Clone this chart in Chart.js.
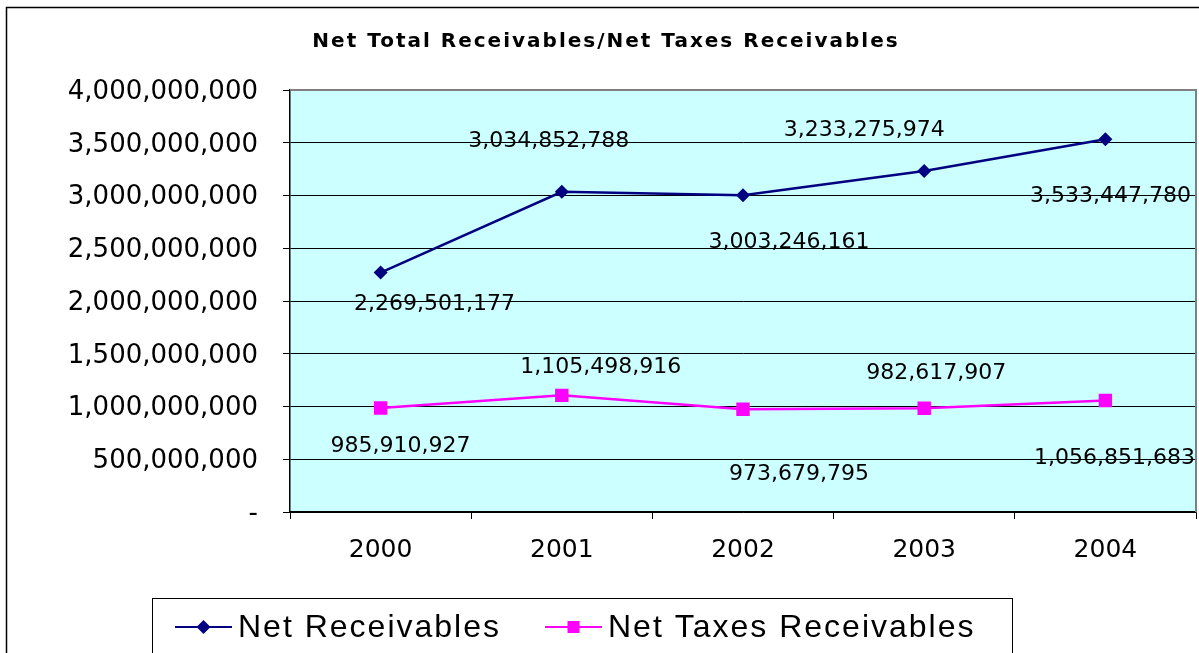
<!DOCTYPE html>
<html>
<head>
<meta charset="utf-8">
<script src="https://cdn.jsdelivr.net/npm/chart.js@4/dist/chart.umd.min.js"></script>
<style>
  html, body { margin: 0; padding: 0; background: #fff; }
  canvas { display: block; }
</style>
</head>
<body>
<canvas id="chart" width="1199" height="653"></canvas>
<script>
const years = ["2000", "2001", "2002", "2003", "2004"];
const netReceivables = [2269501177, 3034852788, 3003246161, 3233275974, 3533447780];
const netTaxesReceivables = [985910927, 1105498916, 973679795, 982617907, 1056851683];
const yTicksMax = 4000000000;
const yTicksStep = 500000000;

// label placement relative to each point (dx, dy in px)
const labelOffsets = [
  [[54, 32], [-13, -51], [46, 47], [-60, -41], [5, 57]],
  [[20, 38], [39, -28], [56, 65], [12, -35], [9, 58]],
];

const fmt = v => v.toLocaleString("en-US");

const framePlugin = {
  id: "frame",
  beforeDraw(chart) {
    const { ctx, chartArea: a } = chart;
    ctx.save();
    ctx.fillStyle = "#fff";
    ctx.fillRect(0, 0, chart.width, chart.height);
    ctx.fillStyle = "#CCFFFF";
    ctx.fillRect(a.left, a.top, a.right - a.left, a.bottom - a.top);
    // outer frame
    ctx.strokeStyle = "#000";
    ctx.lineWidth = 1.5;
    ctx.strokeRect(6.5, 7.5, 1250, 700);
    // title
    ctx.fillStyle = "#000";
    ctx.font = "bold 20px 'DejaVu Sans'";
    ctx.letterSpacing = "2px";
    ctx.textAlign = "center";
    ctx.textBaseline = "middle";
    ctx.fillText("Net Total Receivables/Net Taxes Receivables", 606, 42);
    ctx.restore();
  },
  beforeDatasetsDraw(chart) {
    const { ctx, chartArea: a } = chart;
    ctx.save();
    ctx.strokeStyle = "#808080";
    ctx.lineWidth = 2;
    ctx.beginPath();
    ctx.moveTo(a.left, a.top);
    ctx.lineTo(a.right, a.top);
    ctx.lineTo(a.right, a.bottom);
    ctx.stroke();
    ctx.restore();
  },
  afterDatasetsDraw(chart) {
    const { ctx } = chart;
    ctx.save();
    ctx.fillStyle = "#000";
    ctx.font = "22px 'DejaVu Sans'";
    ctx.textAlign = "center";
    ctx.textBaseline = "middle";
    chart.data.datasets.forEach((ds, i) => {
      chart.getDatasetMeta(i).data.forEach((pt, j) => {
        const [dx, dy] = labelOffsets[i][j];
        ctx.fillText(fmt(ds.data[j]), pt.x + dx, pt.y + dy);
      });
    });
    ctx.restore();
  },
  afterDraw(chart) {
    const { ctx } = chart;
    ctx.save();
    // legend box
    ctx.strokeStyle = "#000";
    ctx.lineWidth = 1;
    ctx.strokeRect(152.5, 598.5, 860, 80);
    const items = [
      { x: 175, textX: 238 },
      { x: 545, textX: 608 },
    ];
    const y = 627;
    chart.data.datasets.forEach((ds, i) => {
      const it = items[i];
      ctx.strokeStyle = ds.borderColor;
      ctx.lineWidth = 2;
      ctx.beginPath();
      ctx.moveTo(it.x, y);
      ctx.lineTo(it.x + 57, y);
      ctx.stroke();
      ctx.fillStyle = ds.backgroundColor;
      const cx = it.x + 28.5;
      if (i === 0) {
        ctx.beginPath();
        ctx.moveTo(cx, y - 7);
        ctx.lineTo(cx + 7, y);
        ctx.lineTo(cx, y + 7);
        ctx.lineTo(cx - 7, y);
        ctx.closePath();
        ctx.fill();
      } else {
        ctx.fillRect(cx - 6, y - 6, 12, 12);
      }
      ctx.fillStyle = "#000";
      ctx.font = "32px 'Liberation Sans'";
      ctx.letterSpacing = "2px";
      ctx.textAlign = "left";
      ctx.textBaseline = "middle";
      ctx.fillText(ds.label, it.textX, y + 1);
      ctx.letterSpacing = "0px";
    });
    ctx.restore();
  },
};

new Chart(document.getElementById("chart"), {
  type: "line",
  data: {
    labels: years,
    datasets: [
      {
        label: "Net Receivables",
        data: netReceivables,
        borderColor: "#000080",
        backgroundColor: "#000080",
        borderWidth: 2.5,
        pointStyle: "rectRot",
        pointRadius: 7,
        pointBorderWidth: 0,
        tension: 0,
      },
      {
        label: "Net Taxes Receivables",
        data: netTaxesReceivables,
        borderColor: "#FF00FF",
        backgroundColor: "#FF00FF",
        borderWidth: 2.5,
        pointStyle: "rect",
        pointRadius: 9.5,
        pointBorderWidth: 0,
        tension: 0,
      },
    ],
  },
  options: {
    responsive: false,
    animation: false,
    layout: { autoPadding: false, padding: { top: 90, left: 0, right: 3, bottom: 0 } },
    plugins: {
      legend: { display: false },
      title: { display: false },
      tooltip: { enabled: false },
    },
    scales: {
      x: {
        offset: true,
        afterFit: s => { s.height = 141; s.paddingLeft = 0; s.paddingRight = 0; },
        grid: {
          offset: true,
          drawOnChartArea: false,
          color: "#000",
          tickLength: 7,
        },
        border: { color: "#000", width: 1.5 },
        ticks: {
          color: "#000",
          padding: 16,
          font: { family: "'DejaVu Sans'", size: 25 },
        },
      },
      y: {
        min: 0,
        max: yTicksMax,
        afterFit: s => { s.width = 290; s.paddingTop = 0; s.paddingBottom = 0; },
        grid: {
          color: ctx => (ctx.tick && ctx.tick.value === yTicksMax ? "rgba(0,0,0,0)" : "#000"),
          tickColor: "#000",
          tickLength: 7,
        },
        border: { color: "#000", width: 1.5 },
        ticks: {
          stepSize: yTicksStep,
          color: "#000",
          padding: 25,
          labelOffset: 2,
          font: { family: "'DejaVu Sans'", size: 26 },
          callback: v => (v === 0 ? "-" : fmt(v)),
        },
      },
    },
  },
  plugins: [framePlugin],
});
</script>
</body>
</html>
